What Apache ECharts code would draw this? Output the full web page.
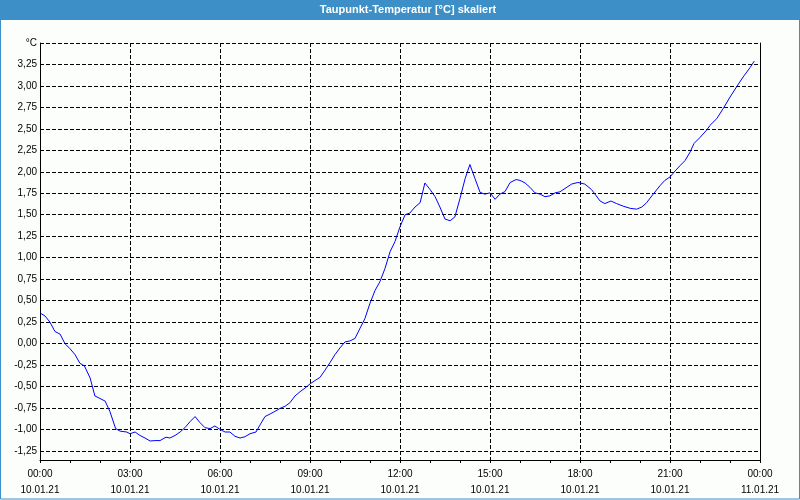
<!DOCTYPE html>
<html>
<head>
<meta charset="utf-8">
<script src="https://cdn.jsdelivr.net/npm/echarts@6/dist/echarts.min.js"></script>
<style>
html,body{margin:0;padding:0;background:#fcfefc;}
#chart{width:800px;height:500px;}
</style>
</head>
<body>
<div id="chart"></div>
<script>
// ---- data ----
const titleText = 'Taupunkt-Temperatur [°C] skaliert';
const hours = [0.03,0.17,0.33,0.5,0.67,0.83,1.0,1.17,1.33,1.48,1.67,1.83,2.0,2.17,2.33,2.52,2.67,2.89,3.0,3.17,3.33,3.5,3.67,3.83,4.0,4.2,4.33,4.5,4.67,4.83,5.0,5.17,5.33,5.5,5.67,5.83,6.0,6.17,6.33,6.5,6.67,6.83,7.0,7.2,7.33,7.5,7.67,7.83,8.0,8.17,8.33,8.5,8.67,8.83,9.0,9.17,9.33,9.5,9.67,9.83,10.0,10.17,10.33,10.5,10.67,10.83,11.0,11.17,11.33,11.5,11.67,11.83,12.0,12.17,12.33,12.5,12.67,12.83,13.0,13.17,13.33,13.5,13.67,13.83,14.0,14.17,14.33,14.5,14.67,14.83,15.0,15.17,15.33,15.5,15.67,15.87,16.0,16.17,16.33,16.5,16.67,16.83,17.0,17.17,17.33,17.5,17.72,17.93,18.16,18.38,18.67,18.83,19.03,19.22,19.44,19.67,19.89,20.06,20.22,20.44,20.67,20.83,21.0,21.17,21.33,21.5,21.67,21.8,22.0,22.22,22.33,22.56,22.78,23.0,23.22,23.44,23.67,23.81];
const dewPoint = [0.35,0.32,0.25,0.14,0.11,0.0,-0.06,-0.13,-0.23,-0.26,-0.40,-0.61,-0.64,-0.67,-0.79,-0.99,-1.02,-1.03,-1.05,-1.03,-1.07,-1.10,-1.135,-1.13,-1.13,-1.09,-1.10,-1.07,-1.03,-0.98,-0.91,-0.85,-0.92,-0.98,-0.99,-0.96,-1.0,-1.03,-1.03,-1.08,-1.10,-1.085,-1.05,-1.03,-0.95,-0.85,-0.82,-0.79,-0.755,-0.73,-0.69,-0.61,-0.56,-0.52,-0.47,-0.43,-0.395,-0.31,-0.22,-0.13,-0.05,0.02,0.03,0.06,0.18,0.29,0.47,0.62,0.72,0.875,1.07,1.185,1.36,1.50,1.52,1.59,1.64,1.87,1.795,1.71,1.59,1.45,1.43,1.475,1.69,1.92,2.085,1.92,1.76,1.74,1.755,1.68,1.74,1.77,1.875,1.91,1.90,1.87,1.82,1.755,1.74,1.71,1.72,1.755,1.767,1.806,1.857,1.876,1.857,1.795,1.66,1.63,1.66,1.63,1.60,1.575,1.565,1.59,1.64,1.74,1.84,1.90,1.94,2.01,2.07,2.13,2.23,2.33,2.40,2.485,2.54,2.62,2.74,2.87,2.99,3.105,3.215,3.29];
const timeLabels = ['00:00','03:00','06:00','09:00','12:00','15:00','18:00','21:00','00:00'];
const dateLabels = ['10.01.21','10.01.21','10.01.21','10.01.21','10.01.21','10.01.21','10.01.21','10.01.21','11.01.21'];
const yTicks = [-1.25,-1.0,-0.75,-0.5,-0.25,0,0.25,0.5,0.75,1.0,1.25,1.5,1.75,2.0,2.25,2.5,2.75,3.0,3.25,3.5];
const yUnit = '°C';

const seriesData = hours.map((h, i) => [h, dewPoint[i]]);
const Y_MIN = -1.356, Y_MAX = 3.5;
const font = '"Liberation Sans", Arial, sans-serif';
const blue = '#3c8fc7';

const chart = echarts.init(document.getElementById('chart'), null, {renderer: 'canvas'});
chart.setOption({
  animation: false,
  backgroundColor: '#fcfefc',
  grid: {left: 40, right: 40, top: 43, bottom: 40, containLabel: false},
  graphic: [
    {type: 'rect', left: 0, top: 0, shape: {width: 800, height: 20}, style: {fill: blue}, z: 10},
    {type: 'rect', shape: {x: 0.5, y: 10, width: 799, height: 489}, style: {fill: null, stroke: blue, lineWidth: 1}, z: 10},
    {type: 'text', x: 408, y: 10, style: {text: titleText, fill: '#ffffff', font: 'bold 11px ' + font, textAlign: 'center', textVerticalAlign: 'middle'}, z: 11}
  ],
  xAxis: [
    {
      type: 'value', min: 0, max: 24, interval: 3, position: 'bottom',
      axisLine: {show: true, onZero: false, lineStyle: {color: '#000', width: 1}},
      axisTick: {show: true, length: 3, lineStyle: {color: '#000'}},
      axisLabel: {
        margin: 6, color: '#000', fontFamily: font, fontSize: 10, lineHeight: 16,
        formatter: v => { const i = Math.round(v / 3); return timeLabels[i] + '\n' + dateLabels[i]; }
      },
      splitLine: {show: true, lineStyle: {color: '#000', type: [4, 2], width: 1}}
    },
    {
      type: 'value', min: 0, max: 24, interval: 1, position: 'bottom',
      axisLine: {show: false, onZero: false},
      axisTick: {show: true, length: 3, lineStyle: {color: '#000'}},
      axisLabel: {show: false},
      splitLine: {show: false}
    }
  ],
  yAxis: [
    {
      type: 'value', min: Y_MIN, max: Y_MAX, position: 'left',
      axisLine: {show: true, onZero: false, lineStyle: {color: '#000', width: 1}},
      axisTick: {show: false, customValues: yTicks},
      axisLabel: {
        customValues: yTicks, margin: 3, color: '#000', fontFamily: font, fontSize: 10,
        formatter: v => Math.abs(v - Y_MAX) < 1e-6 ? yUnit : v.toFixed(2).replace('.', ',')
      },
      splitLine: {show: true, lineStyle: {color: '#000', type: [4, 2], width: 1}}
    },
    {
      type: 'value', min: Y_MIN, max: Y_MAX, position: 'right',
      axisLine: {show: true, onZero: false, lineStyle: {color: '#000', width: 1}},
      axisTick: {show: false}, axisLabel: {show: false}, splitLine: {show: false}
    }
  ],
  series: [{
    type: 'line', data: seriesData, xAxisIndex: 0, yAxisIndex: 0,
    showSymbol: false, symbol: 'none',
    lineStyle: {color: '#0000ff', width: 1}
  }]
});
</script>
</body>
</html>
